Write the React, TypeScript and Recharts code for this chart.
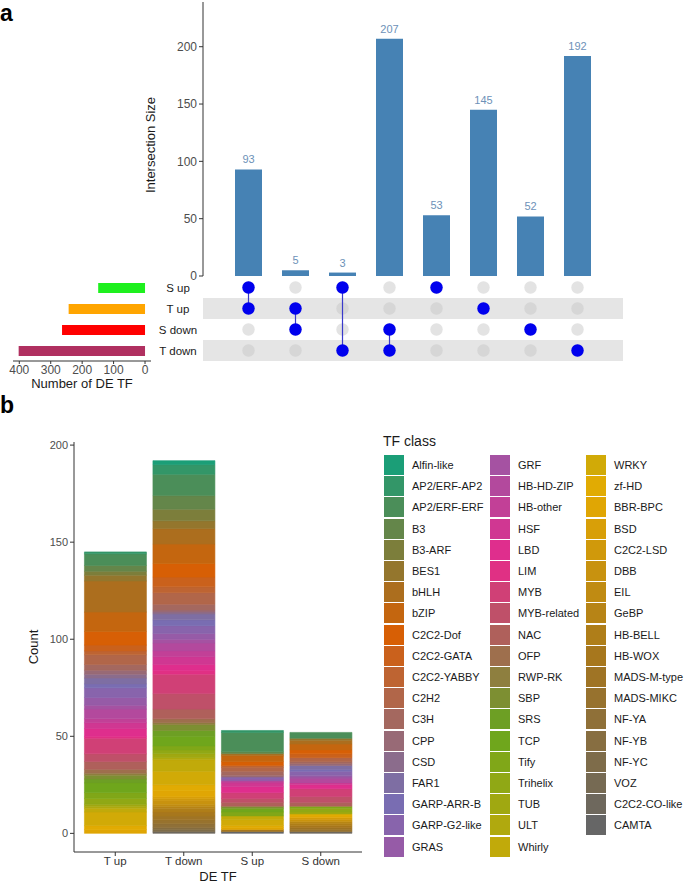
import React from 'react';
import { BarChart, Bar, XAxis, YAxis, LabelList, ScatterChart, Scatter, ReferenceArea, Label, Cell } from 'recharts';

// ---- panel a data ----
const setNames = ['S up', 'T up', 'S down', 'T down'];
const setSizes = [149, 243, 264, 402];
const intersectionSizes = [93, 5, 3, 207, 53, 145, 52, 192];
const intersectionMembers = [
  ['S up', 'T up'],
  ['T up', 'S down'],
  ['S up', 'T down'],
  ['S down', 'T down'],
  ['S up'],
  ['T up'],
  ['S down'],
  ['T down'],
];

// ---- panel b data ----
const deGroups = ['T up', 'T down', 'S up', 'S down'];
const tfClasses = [
  'Alfin-like', 'AP2/ERF-AP2', 'AP2/ERF-ERF', 'B3', 'B3-ARF', 'BES1', 'bHLH', 'bZIP', 'C2C2-Dof', 'C2C2-GATA',
  'C2C2-YABBY', 'C2H2', 'C3H', 'CPP', 'CSD', 'FAR1', 'GARP-ARR-B', 'GARP-G2-like', 'GRAS', 'GRF',
  'HB-HD-ZIP', 'HB-other', 'HSF', 'LBD', 'LIM', 'MYB', 'MYB-related', 'NAC', 'OFP', 'RWP-RK',
  'SBP', 'SRS', 'TCP', 'Tify', 'Trihelix', 'TUB', 'ULT', 'Whirly', 'WRKY', 'zf-HD',
  'BBR-BPC', 'BSD', 'C2C2-LSD', 'DBB', 'EIL', 'GeBP', 'HB-BELL', 'HB-WOX', 'MADS-M-type', 'MADS-MIKC',
  'NF-YA', 'NF-YB', 'NF-YC', 'VOZ', 'C2C2-CO-like', 'CAMTA',
];
const countsTUp = [
  0, 1, 6, 3, 2, 3, 16, 10, 7, 3,
  2, 5, 3, 2, 2, 3, 2, 5, 4, 2,
  5, 2, 3, 4, 1, 8, 4, 4, 2, 1,
  2, 2, 5, 3, 3, 1, 1, 2, 7, 2,
  2, 0, 0, 0, 0, 0, 0, 0, 0, 0,
  0, 0, 0, 0, 0, 0,
];
const countsTDown = [
  2, 5, 11, 7, 6, 4, 8, 10, 7, 5,
  3, 6, 3, 1, 1, 3, 3, 4, 3, 2,
  4, 3, 4, 3, 2, 10, 8, 5, 2, 1,
  3, 3, 5, 2, 2, 2, 1, 6, 7, 3,
  3, 1, 1, 2, 1, 1, 2, 2, 2, 2,
  2, 1, 1, 0, 1, 0,
];
const countsSUp = [
  0, 1, 10, 1, 0, 0, 1, 3, 2, 0,
  1, 2, 2, 1, 0, 0, 0, 1, 1, 0,
  0, 1, 2, 3, 0, 3, 2, 2, 0, 0,
  1, 0, 2, 2, 0, 0, 0, 2, 3, 1,
  1, 0, 0, 0, 0, 0, 0, 1, 0, 0,
  0, 0, 0, 0, 0, 1,
];
const countsSDown = [
  0, 0, 3, 0, 0, 1, 2, 3, 2, 2,
  0, 2, 1, 1, 0, 2, 1, 2, 1, 1,
  2, 0, 1, 2, 0, 4, 3, 2, 0, 0,
  0, 0, 0, 1, 2, 1, 0, 0, 0, 1,
  1, 0, 1, 1, 0, 1, 1, 1, 1, 1,
  0, 0, 0, 0, 1, 0,
];

const FONT = '"Liberation Sans", Arial, sans-serif';
const setColors = ['#1EF01E', '#FFA500', '#FF0000', '#B03060'];
const dark2 = ['#1B9E77', '#D95F02', '#7570B3', '#E7298A', '#66A61E', '#E6AB02', '#A6761D', '#666666'];

function rampColor(i: number, n: number) {
  const t = (i / (n - 1)) * (dark2.length - 1);
  const k = Math.min(Math.floor(t), dark2.length - 2);
  const f = t - k;
  const a = dark2[k], b = dark2[k + 1];
  const ch = (h: string, p: number) => parseInt(h.slice(p, p + 2), 16);
  const mix = (p: number) => Math.round(ch(a, p) + (ch(b, p) - ch(a, p)) * f);
  return `rgb(${mix(1)},${mix(3)},${mix(5)})`;
}
const classColors = tfClasses.map((_, i) => rampColor(i, tfClasses.length));

const intersectionData = intersectionSizes.map((v, i) => ({ id: intersectionMembers[i].join(' & '), size: v }));
const setSizeData = setNames.map((s, i) => ({ name: s, size: setSizes[i] }));
const gridDots = intersectionSizes.flatMap((_, c) => setNames.map((_s, r) => ({ x: c + 1, y: r + 1 })));
const activeDots = intersectionMembers.map((m, c) => m.map((s) => ({ x: c + 1, y: setNames.indexOf(s) + 1 })));

const classCounts = [countsTUp, countsTDown, countsSUp, countsSDown];
const stackData = deGroups.map((g, gi) => {
  const row: Record<string, any> = { group: g };
  tfClasses.forEach((c, ci) => { row[c] = classCounts[gi][ci]; });
  return row;
});

const axisTick = { fill: '#4D4D4D', fontSize: 12, fontFamily: FONT };

const rotatedTitle = (text: string, x: number, y: number) => () => (
  <text x={x} y={y} transform={`rotate(-90, ${x}, ${y})`} textAnchor="middle" dominantBaseline="central"
    fontSize={13} fill="#1a1a1a" fontFamily={FONT}>{text}</text>
);

const SetNameTick = (props: any) => {
  const { y, payload } = props;
  return (
    <text x={178} y={y} dy={4} textAnchor="middle" fontSize={11.5} fill="#1a1a1a" fontFamily={FONT}>
      {setNames[payload.value - 1]}
    </text>
  );
};

const dotShape = (fill: string, opacity = 1) => (p: any) => (
  <circle cx={p.cx} cy={p.cy} r={6.2} fill={fill} fillOpacity={opacity} />
);

const xDom: [number, number] = [0.032, 8.968];

export default function App() {
  const legendCols = [tfClasses.slice(0, 19), tfClasses.slice(19, 38), tfClasses.slice(38)];
  const colX = [384, 490, 586];
  return (
    <div style={{ position: 'absolute', left: 0, top: 0, width: 685, height: 885, background: '#fff', fontFamily: FONT, overflow: 'hidden' }}>
      <div style={{ position: 'absolute', left: 0, top: 0, fontSize: 23, fontWeight: 'bold', lineHeight: 'normal' }}>a</div>
      <div style={{ position: 'absolute', left: 0, top: 392, fontSize: 23, fontWeight: 'bold', lineHeight: 'normal' }}>b</div>

      {/* intersection size bars */}
      <div style={{ position: 'absolute', left: 0, top: 0 }}>
        <BarChart width={685} height={290} data={intersectionData} margin={{ top: 2, right: 62, bottom: 14, left: 143 }}>
          <XAxis dataKey="id" height={0} tick={false} tickLine={false} axisLine={{ stroke: '#333' }} padding={{ left: 22, right: 22 }} />
          <YAxis width={60} domain={[0, 239]} ticks={[0, 50, 100, 150, 200]} allowDataOverflow
            tick={axisTick} tickSize={4} tickLine={{ stroke: '#333' }} axisLine={{ stroke: '#333' }}>
            <Label content={rotatedTitle('Intersection Size', 150, 145)} />
          </YAxis>
          <Bar dataKey="size" fill="#4682B4" barSize={27} isAnimationActive={false}>
            <LabelList dataKey="size" position="top" offset={6} fill="#6D91B8" fontSize={11} fontFamily={FONT} />
          </Bar>
        </BarChart>
      </div>

      {/* matrix */}
      <div style={{ position: 'absolute', left: 0, top: 270 }}>
        <ScatterChart width={685} height={100} margin={{ top: 7, right: 62, bottom: 9, left: 143 }}>
          <XAxis type="number" dataKey="x" domain={xDom} hide allowDataOverflow />
          <YAxis type="number" dataKey="y" domain={[0.5, 4.5]} reversed ticks={[1, 2, 3, 4]} interval={0} width={60}
            axisLine={false} tickLine={false} tick={<SetNameTick />} allowDataOverflow />
          <ReferenceArea x1={xDom[0]} x2={xDom[1]} y1={1.5} y2={2.5} fill="#E5E5E5" fillOpacity={1} stroke="none" />
          <ReferenceArea x1={xDom[0]} x2={xDom[1]} y1={3.5} y2={4.5} fill="#E5E5E5" fillOpacity={1} stroke="none" />
          <Scatter data={gridDots} shape={dotShape('#C8C8C8', 0.5)} isAnimationActive={false} />
          {activeDots.map((pts, i) => (
            <Scatter key={i} data={pts} line={{ stroke: '#3A3ACB', strokeWidth: 1.2 }} lineType="joint"
              shape={dotShape('#0000EE')} isAnimationActive={false} />
          ))}
        </ScatterChart>
      </div>

      {/* set sizes */}
      <div style={{ position: 'absolute', left: 0, top: 270 }}>
        <BarChart width={151} height={121} data={setSizeData} layout="vertical" margin={{ top: 7, right: 0, bottom: 0, left: 13 }}>
          <XAxis type="number" domain={[-19, 420]} reversed ticks={[0, 100, 200, 300, 400]} interval={0} allowDataOverflow height={30}
            tick={axisTick} tickSize={3} tickMargin={1} tickLine={{ stroke: '#333' }} axisLine={{ stroke: '#333' }}>
            <Label value="Number of DE TF" position="insideBottom" offset={3} fill="#1a1a1a" fontSize={13} fontFamily={FONT} />
          </XAxis>
          <YAxis type="category" dataKey="name" hide />
          <Bar dataKey="size" barSize={10} isAnimationActive={false}>
            {setSizeData.map((d, i) => <Cell key={d.name} fill={setColors[i]} />)}
          </Bar>
        </BarChart>
      </div>

      {/* panel b stacked bars */}
      <div style={{ position: 'absolute', left: 0, top: 400 }}>
        <BarChart width={375} height={485} data={stackData} margin={{ top: 42, right: 13, bottom: 0, left: 24 }} barCategoryGap="5%">
          <XAxis dataKey="group" height={33} padding={{ left: 7, right: 7 }} tickSize={4} tickMargin={1} interval={0}
            tick={{ fill: '#333', fontSize: 11.5, fontFamily: FONT }} tickLine={{ stroke: '#333' }} axisLine={{ stroke: '#333' }}>
            <Label value="DE TF" position="insideBottom" offset={4} fill="#1a1a1a" fontSize={13} fontFamily={FONT} />
          </XAxis>
          <YAxis width={50} domain={[-9.6, 201.6]} ticks={[0, 50, 100, 150, 200]} interval={0} allowDataOverflow
            tick={{ ...axisTick, fontSize: 11 }} tickSize={4} tickLine={{ stroke: '#333' }} axisLine={{ stroke: '#333' }}>
            <Label content={rotatedTitle('Count', 33, 247)} />
          </YAxis>
          {tfClasses.map((c, i) => ({ c, i })).reverse().map(({ c, i }) => (
            <Bar key={c} dataKey={c} stackId="tf" fill={classColors[i]} stroke={classColors[i]} strokeWidth={0.6}
              isAnimationActive={false} />
          ))}
        </BarChart>
      </div>

      {/* legend */}
      <div style={{ position: 'absolute', left: 383, top: 433, fontSize: 14, color: '#1a1a1a', lineHeight: '17px' }}>TF class</div>
      {legendCols.map((col, ci) => col.map((c, r) => {
        const idx = tfClasses.indexOf(c);
        const top = 455 + r * 21.2;
        return (
          <React.Fragment key={c}>
            <div style={{ position: 'absolute', left: colX[ci], top, width: 20, height: 20, background: classColors[idx] }} />
            <div style={{ position: 'absolute', left: colX[ci] + 28, top: top + 3, fontSize: 11, lineHeight: '14px', color: '#1a1a1a', whiteSpace: 'nowrap' }}>{c}</div>
          </React.Fragment>
        );
      }))}
    </div>
  );
}
